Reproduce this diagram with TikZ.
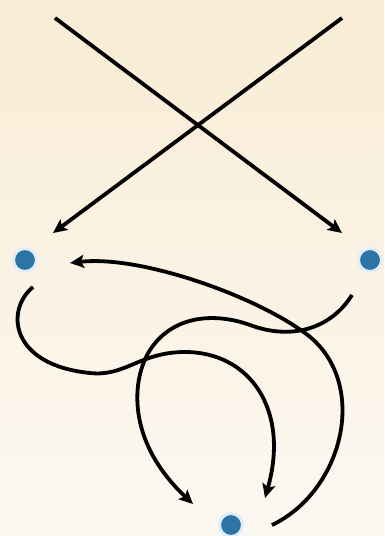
\documentclass[tikz,border=0pt]{standalone}
\usetikzlibrary{arrows.meta}
\definecolor{bgtop}{RGB}{248,236,212}
\definecolor{bgbot}{RGB}{252,248,242}
\definecolor{dotblue}{RGB}{44,116,166}
\definecolor{halo}{RGB}{225,238,247}
\tikzset{
  dotnode/.style={circle, fill=dotblue, minimum size=23pt, inner sep=0pt, draw=halo, line width=3pt},
  arr/.style={line width=3.8pt, black, -{Stealth[length=14pt,width=13pt,inset=3pt]}}
}
\begin{document}
\begin{tikzpicture}[x=1pt,y=-1pt]
\shade[top color=bgtop, bottom color=bgbot] (0,0) rectangle (384,536);
\useasboundingbox (0,0) rectangle (384,536);
% dots
\node[dotnode] (l) at (25,260) {};
\node[dotnode] (r) at (370,260) {};
\node[dotnode] (b) at (231,525) {};
% free ends
\coordinate (tl) at (55,18);
\coordinate (tr) at (342,18);
\coordinate (tipR) at (342,233);
\coordinate (tipL) at (53,233);
\coordinate (b1) at (272,525);
\coordinate (l1) at (70,263);
\coordinate (r2) at (352,295);
\coordinate (b2) at (193,504);
\coordinate (l3) at (33,287);
\coordinate (b3) at (265,498);
% straight crossing arrows
\draw[arr] (tl) -- (tipR);
\draw[arr] (tr) -- (tipL);
% curve from bottom to left
\draw[arr] (b1) .. controls (345,490) and (370,380) .. (305,333)
  .. controls (253,295) and (140,255) .. (l1);
% curve from right to bottom
\draw[arr] (r2) .. controls (330,330) and (290,340) .. (250,325)
  .. controls (220,314) and (175,312) .. (150,350)
  .. controls (132,378) and (125,440) .. (b2);
% curve from left to bottom
\draw[arr] (l3) .. controls (5,310) and (10,365) .. (90,373)
  .. controls (125,377) and (140,352) .. (185,352)
  .. controls (250,352) and (290,410) .. (b3);
\end{tikzpicture}
\end{document}
